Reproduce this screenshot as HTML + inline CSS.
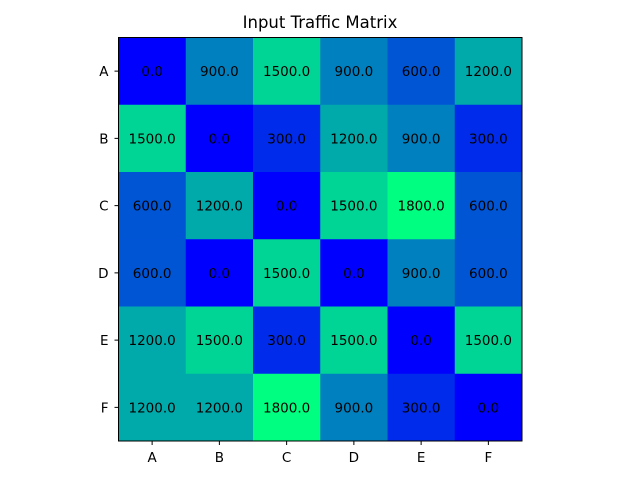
<!DOCTYPE html>
<html><head><meta charset="utf-8"><style>
body{margin:0;background:#fff;}
text{font-family:"DejaVu Sans","Liberation Sans",sans-serif;}
</style></head><body>
<svg id="chart" width="640" height="480" xmlns="http://www.w3.org/2000/svg">
<text x="320" y="28" text-anchor="middle" font-size="16.5">Input Traffic Matrix</text>
<g id="cells"></g>
<g id="ticks"></g>
<rect x="118.5" y="37.5" width="403.5" height="403.5" fill="none" stroke="#000" stroke-width="1"/>
</svg>
<script>
const rowLabels = ["A","B","C","D","E","F"];
const colLabels = ["A","B","C","D","E","F"];
const values = [
 [0,900,1500,900,600,1200],
 [1500,0,300,1200,900,300],
 [600,1200,0,1500,1800,600],
 [600,0,1500,0,900,600],
 [1200,1500,300,1500,0,1500],
 [1200,1200,1800,900,300,0]
];
const NS="http://www.w3.org/2000/svg";
const x0=118.5,y0=37.5,W=403.5,H=403.5;
const cw=W/colLabels.length, ch=H/rowLabels.length;
let vmin=Infinity,vmax=-Infinity;
values.forEach(r=>r.forEach(v=>{vmin=Math.min(vmin,v);vmax=Math.max(vmax,v);}));
function color(v){const t=(v-vmin)/((vmax-vmin)||1);return `rgb(0,${Math.round(255*t)},${Math.round(255*(1-0.5*t))})`;}
const xs=i=>x0+i*cw, ys=j=>y0+j*ch;
const cells=document.getElementById('cells'), ticks=document.getElementById('ticks');
values.forEach((row,j)=>row.forEach((v,i)=>{
 const r=document.createElementNS(NS,'rect');
 r.setAttribute('x',xs(i));r.setAttribute('y',ys(j));
 r.setAttribute('width',cw+0.5);r.setAttribute('height',ch+0.5);
 r.setAttribute('fill',color(v));
 
 
 cells.appendChild(r);
 const t=document.createElementNS(NS,'text');
 t.setAttribute('x',xs(i)+cw/2);t.setAttribute('y',ys(j)+ch/2+5);
 t.setAttribute('text-anchor','middle');t.setAttribute('font-size','13.5');
 t.textContent=v.toFixed(1);
 
 
 cells.appendChild(t);
}));
colLabels.forEach((l,i)=>{
 const cx=xs(i)+cw/2;
 const ln=document.createElementNS(NS,'line');
 ln.setAttribute('x1',cx);ln.setAttribute('x2',cx);ln.setAttribute('y1',y0+H);ln.setAttribute('y2',y0+H+4);ln.setAttribute('stroke','#000');
 
 
 ticks.appendChild(ln);
 const t=document.createElementNS(NS,'text');
 t.setAttribute('x',cx);t.setAttribute('y',y0+H+21);t.setAttribute('text-anchor','middle');t.setAttribute('font-size','13.5');
 t.textContent=l;
 
 
 ticks.appendChild(t);
});
rowLabels.forEach((l,j)=>{
 const cy=ys(j)+ch/2;
 const ln=document.createElementNS(NS,'line');
 ln.setAttribute('x1',x0-4);ln.setAttribute('x2',x0);ln.setAttribute('y1',cy);ln.setAttribute('y2',cy);ln.setAttribute('stroke','#000');
 
 
 ticks.appendChild(ln);
 const t=document.createElementNS(NS,'text');
 t.setAttribute('x',x0-10);t.setAttribute('y',cy+5);t.setAttribute('text-anchor','end');t.setAttribute('font-size','13.5');
 t.textContent=l;
 
 
 ticks.appendChild(t);
});
</script>
</body></html>
